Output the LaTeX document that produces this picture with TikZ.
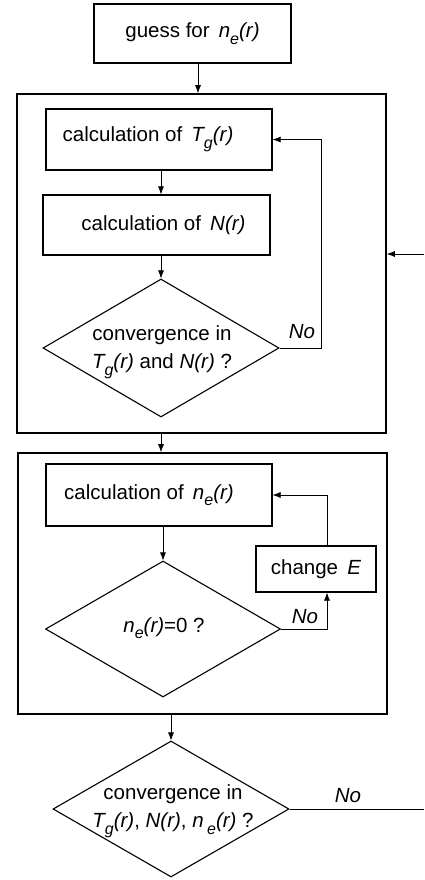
\documentclass[tikz,border=0pt]{standalone}
\usepackage{fontspec}
\setmainfont{Liberation Sans}
\usetikzlibrary{shapes.geometric,arrows.meta}
\newcommand{\sbs}[1]{\raisebox{-0.32em}{\fontsize{16}{16}\selectfont\itshape #1}}
\begin{document}
\begin{tikzpicture}[x=1pt,y=-1pt,
  every node/.style={font=\fontsize{20.5}{28}\selectfont},
  procbox/.style={draw,line width=1.2pt,rectangle,inner sep=0pt},
  outerbox/.style={draw,line width=1.6pt,rectangle,inner sep=0pt},
  decision/.style={draw,line width=1.1pt,diamond,inner sep=0pt},
  dtext/.style={align=center,inner sep=0pt},
  conn/.style={line width=0.7pt,-{Latex[length=8pt,width=6pt]}},
  plainconn/.style={line width=0.7pt},
  nolabel/.style={font=\fontsize{20.5}{24}\selectfont\itshape}
]
\useasboundingbox (0,0) rectangle (424,880);
% outer frames
\node[outerbox,minimum width=369pt,minimum height=339pt] (o1) at (201.5,263.5) {};
\node[outerbox,minimum width=369pt,minimum height=261pt] (o2) at (202.5,583.5) {};
% boxes
\node[procbox,minimum width=197pt,minimum height=59pt] (guess) at (192.5,33.5) {guess for~\,\textit{n\sbs{e}(r)}};
\node[procbox,minimum width=226pt,minimum height=61pt] (tg) at (159,139.5) {\hspace*{-22pt}calculation of~\,\textit{T\sbs{g}(r)}};
\node[procbox,minimum width=227pt,minimum height=60pt] (nr) at (156.5,225) {\hspace*{14pt}calculation of~\,\textit{N(r)}};
\node[procbox,minimum width=226pt,minimum height=62pt] (ne) at (159,495) {\hspace*{-20pt}calculation of~\,\textit{n\sbs{e}(r)}};
\node[procbox,minimum width=120pt,minimum height=46pt] (che) at (316,569) {change~\,\textit{E}};
% decisions
\node[decision,minimum width=236pt,minimum height=138pt] (d1) at (161,348) {};
\node[dtext] (d1t) at (162,352) {convergence in\\\textit{T\sbs{g}(r)} and \textit{N(r)} ?};
\node[decision,minimum width=235pt,minimum height=136pt] (d2) at (163,629) {};
\node[dtext] (d2t) at (164,628) {\textit{n\sbs{e}(r)}=0 ?};
\node[decision,minimum width=236pt,minimum height=136pt] (d3) at (171,809) {};
\node[dtext] (d3t) at (173,811) {convergence in\\\textit{T\sbs{g}(r)}, \textit{N(r)}, \textit{n\,\sbs{e}(r)} ?};
% labels
\node[nolabel] (no1) at (302,332) {No};
\node[nolabel] (no2) at (305,617) {No};
\node[nolabel] (no3) at (348,796) {No};
% free ends
\coordinate (in1) at (424,254);
\coordinate (out3) at (424,809);
% connectors
\draw[conn] ([xshift=5.5pt]guess.south) -- ([xshift=5.5pt]guess.south |- o1.north);
\draw[conn] ([xshift=2pt]tg.south) -- ([xshift=2pt]tg.south |- nr.north);
\draw[conn] (d1.north |- nr.south) -- (d1.north);
\draw[plainconn,-{Latex[length=8pt,width=6pt]}] (d1.east) -- ++(42,0) |- (tg.east);
\draw[conn] (d1.south |- o1.south) -- (d1.south |- o2.north);
\draw[conn] (d2.north |- ne.south) -- (d2.north);
\draw[conn] (d2.east) -| ([xshift=11pt]che.south);
\draw[conn] ([xshift=11pt]che.north) |- (ne.east);
\draw[conn] (d3.north |- o2.south) -- (d3.north);
\draw[plainconn] (d3.east) -- (out3);
\draw[conn] (in1) -- (in1 -| o1.east);
\end{tikzpicture}
\end{document}
